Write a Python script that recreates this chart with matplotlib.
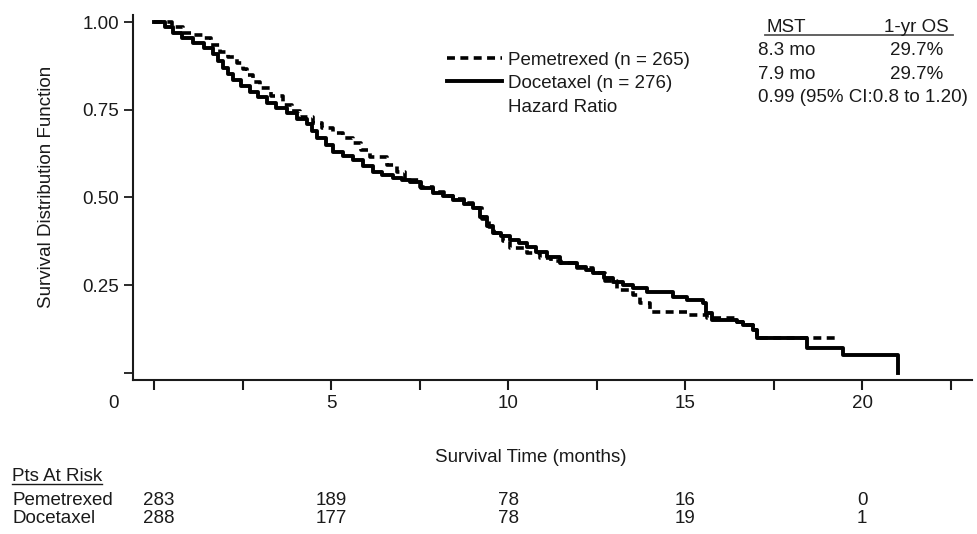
import numpy as np
import matplotlib
matplotlib.use("Agg")
import matplotlib.pyplot as plt
import matplotlib.transforms as mtransforms
from matplotlib.lines import Line2D

plt.rcParams['font.family'] = ['Liberation Sans', 'DejaVu Sans']

# ---- Kaplan-Meier step points (months, survival) ----
doc_time = [0.0, 0.3, 0.55, 0.8, 1.1, 1.4, 1.67, 1.8, 1.95, 2.1, 2.23, 2.45, 2.71,
            2.95, 3.19, 3.45, 3.76, 4.05, 4.32, 4.45, 4.6, 4.85, 5.06, 5.35, 5.62,
            5.9, 6.19, 6.45, 6.75, 7.0, 7.23, 7.55, 7.88, 8.15, 8.45, 8.75, 9.01,
            9.2, 9.4, 9.58, 9.8, 10.06, 10.3, 10.54, 10.8, 11.1, 11.47, 11.95, 12.2,
            12.4, 12.7, 12.97, 13.25, 13.53, 13.93, 14.66, 15.06, 15.51, 15.6, 15.76,
            16.47, 16.64, 16.92, 17.03, 18.45, 19.46, 21.0]
doc_surv = [1.000, 0.985, 0.970, 0.955, 0.940, 0.925, 0.910, 0.890, 0.870, 0.852,
            0.835, 0.818, 0.800, 0.785, 0.770, 0.755, 0.740, 0.725, 0.710, 0.690,
            0.670, 0.650, 0.630, 0.618, 0.607, 0.590, 0.573, 0.565, 0.556, 0.550,
            0.544, 0.528, 0.513, 0.503, 0.493, 0.482, 0.470, 0.444, 0.420, 0.400,
            0.390, 0.379, 0.369, 0.359, 0.345, 0.330, 0.313, 0.302, 0.293, 0.285,
            0.272, 0.259, 0.250, 0.242, 0.231, 0.217, 0.208, 0.200, 0.171, 0.151,
            0.145, 0.137, 0.122, 0.100, 0.071, 0.051, 0.000]

pem_time = [0.0, 0.5, 0.82, 1.1, 1.38, 1.6, 1.86, 2.1, 2.34, 2.5, 2.63, 2.8, 2.99,
            3.3, 3.64, 3.9, 4.12, 4.49, 4.75, 5.06, 5.35, 5.62, 5.85, 6.1, 6.58,
            6.86, 7.1, 7.5, 7.88, 8.2, 8.45, 8.75, 9.0, 9.25, 9.45, 9.6, 9.85,
            10.06, 10.54, 10.9, 11.2, 11.5, 11.95, 12.4, 12.75, 13.08, 13.53, 13.73,
            14.0, 15.06, 15.62, 16.47, 16.64, 16.92, 17.03, 19.3]
pem_surv = [1.000, 0.985, 0.970, 0.962, 0.954, 0.935, 0.915, 0.900, 0.883, 0.866,
            0.849, 0.830, 0.812, 0.788, 0.764, 0.746, 0.729, 0.712, 0.698, 0.684,
            0.670, 0.655, 0.635, 0.615, 0.593, 0.573, 0.550, 0.530, 0.515, 0.505,
            0.495, 0.483, 0.470, 0.440, 0.415, 0.398, 0.375, 0.356, 0.342, 0.328,
            0.320, 0.313, 0.300, 0.285, 0.262, 0.236, 0.222, 0.200, 0.174, 0.165,
            0.157, 0.145, 0.137, 0.122, 0.100, 0.100]

arm_names = ["Pemetrexed", "Docetaxel"]
arm_n = [265, 276]
risk_times = [0, 5, 10, 15, 20]
pem_at_risk = [283, 189, 78, 16, 0]
doc_at_risk = [288, 177, 78, 19, 1]

table_header = ["MST", "1-yr OS"]
mst = ["8.3 mo", "7.9 mo"]
one_year_os = ["29.7%", "29.7%"]
hazard_text = "0.99 (95% CI:0.8 to 1.20)"

x_ticks = np.arange(0, 23, 2.5)
x_tick_labels = ["", "", "5", "", "10", "", "15", "", "20", ""]
y_ticks = [0.0, 0.25, 0.50, 0.75, 1.00]
y_tick_labels = ["", "0.25", "0.50", "0.75", "1.00"]

# ---- figure geometry (pixel helpers) ----
W, H = 977, 534
FS = 13.5
INK = "#1a1a1a"


def fx(px):
    return px / W


def fy(py):
    return 1 - py / H


fig = plt.figure(figsize=(W / 100, H / 100), dpi=100)
ax = fig.add_axes([fx(133), fy(380), fx(972) - fx(133), fy(15) - fy(380)])
ax.set_xlim(-0.593, 23.1)
ax.set_ylim(-0.02, 1.02)

for side in ("top", "right"):
    ax.spines[side].set_visible(False)
for side in ("left", "bottom"):
    ax.spines[side].set_linewidth(1.5)
    ax.spines[side].set_color(INK)

PEM_STYLE = dict(color="black", lw=2.6, dashes=(2.2, 1.5))
DOC_STYLE = dict(color="black", lw=2.8)

ax.plot(pem_time, pem_surv, drawstyle="steps-post", **PEM_STYLE)
ax.plot(doc_time, doc_surv, drawstyle="steps-post", **DOC_STYLE)

ax.set_xticks(x_ticks)
ax.set_xticklabels(x_tick_labels)
ax.set_yticks(y_ticks)
ax.set_yticklabels(y_tick_labels)
X_TICK_LEN, X_PAD = 7, 4
ax.tick_params(axis="x", direction="out", length=X_TICK_LEN, width=1.5,
               pad=X_PAD, labelsize=FS, colors=INK)
ax.tick_params(axis="y", direction="out", length=6.5, width=1.3,
               pad=3.5, labelsize=FS, colors=INK)

# origin label sits left of the first tick
ax.annotate("0", xy=(-1.13, 0), xycoords=ax.get_xaxis_transform(),
            xytext=(0, -(X_TICK_LEN + X_PAD)), textcoords="offset points",
            ha="center", va="top", fontsize=FS, color=INK, annotation_clip=False)

# axis titles
fig.text(fx(47), fy(187), "Survival Distribution Function", rotation=90,
         ha="center", va="center", fontsize=FS, color=INK)
fig.text(fx(531), fy(462), "Survival Time (months)", ha="center",
         va="baseline", fontsize=FS, color=INK)

# legend block
legend_rows = [(65, f"{arm_names[0]} (n = {arm_n[0]})", PEM_STYLE),
               (88, f"{arm_names[1]} (n = {arm_n[1]})", DOC_STYLE),
               (112, "Hazard Ratio", None)]
for base, label, style in legend_rows:
    if style is not None:
        fig.add_artist(Line2D([fx(447), fx(502)], [fy(base - 7), fy(base - 7)],
                              **style))
    fig.text(fx(508), fy(base), label, ha="left", va="baseline",
             fontsize=FS, color=INK)

# summary table
fig.text(fx(766), fy(32), table_header[0], ha="left", va="baseline",
         fontsize=FS, color=INK)
fig.text(fx(949), fy(32), table_header[1], ha="right", va="baseline",
         fontsize=FS, color=INK)
fig.add_artist(Line2D([fx(765), fx(953)], [fy(35), fy(35)], color="#555555", lw=1.3))
for base, m, os_ in zip([55, 79], mst, one_year_os):
    fig.text(fx(758), fy(base), m, ha="left", va="baseline", fontsize=FS, color=INK)
    fig.text(fx(943), fy(base), os_, ha="right", va="baseline", fontsize=FS, color=INK)
fig.text(fx(758), fy(102), hazard_text, ha="left", va="baseline",
         fontsize=FS, color=INK)

# patients at risk table
risk_tr = mtransforms.blended_transform_factory(ax.transData, fig.transFigure)
hdr = fig.text(fx(12), fy(481), "Pts At Risk", ha="left", va="baseline",
               fontsize=FS, color=INK)
fig.canvas.draw()
bb = hdr.get_window_extent().transformed(fig.transFigure.inverted())
fig.add_artist(Line2D([bb.x0, bb.x1], [fy(484), fy(484)], color=INK, lw=1.0))

for base, name, counts in zip([505, 523], arm_names, [pem_at_risk, doc_at_risk]):
    fig.text(fx(12), fy(base), name, ha="left", va="baseline", fontsize=FS, color=INK)
    for t, c in zip(risk_times, counts):
        ax.text(t + (0.14 if t == 0 else 0), fy(base), str(c), transform=risk_tr,
                ha="center", va="baseline", fontsize=FS, color=INK, clip_on=False)

fig.savefig("out.png", dpi=100)
